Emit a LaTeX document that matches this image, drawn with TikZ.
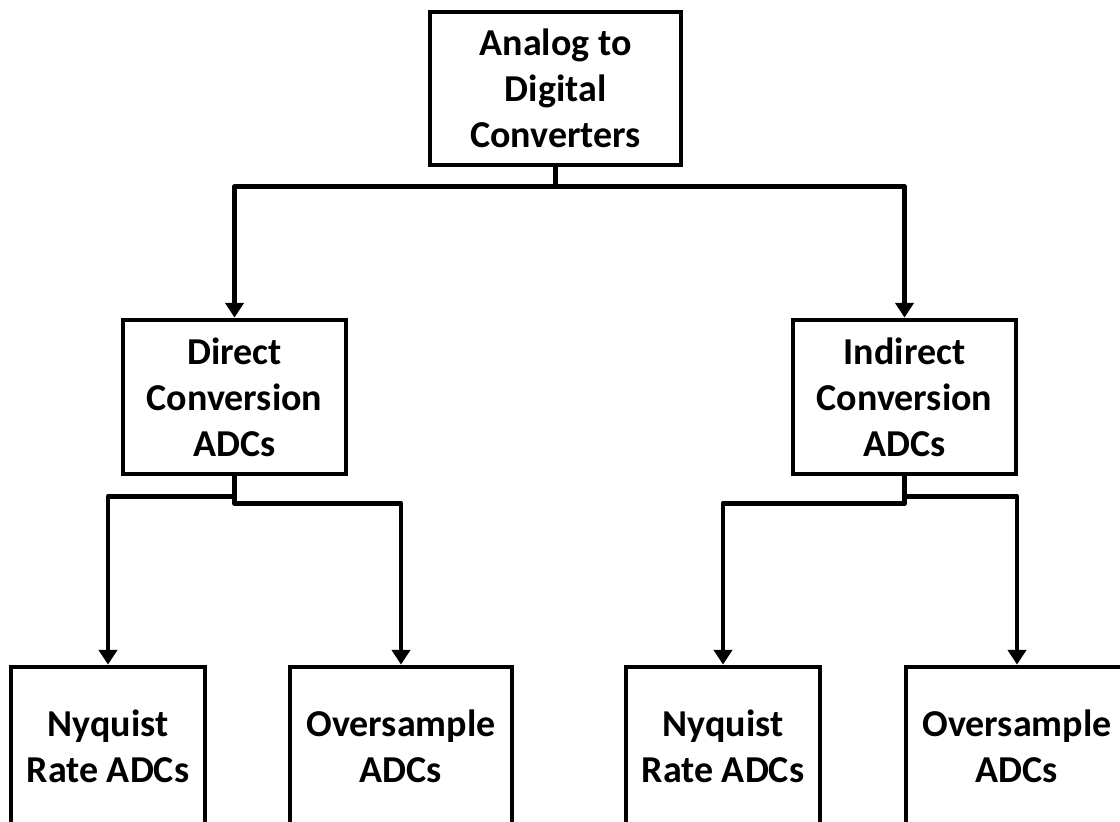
\documentclass[tikz,border=0pt]{standalone}
\usepackage{fontspec}
\setmainfont{Carlito}
\usetikzlibrary{positioning, arrows.meta}

\begin{document}
\begin{tikzpicture}[x=0.75pt, y=-0.75pt,
    box/.style={draw, line width=3.6pt, align=center, inner sep=0pt,
      font=\fontsize{28.5}{34.5}\selectfont\bfseries},
    midbox/.style={box, minimum width=223*0.75pt, minimum height=154*0.75pt},
    nyqbox/.style={box, minimum width=194*0.75pt, minimum height=158*0.75pt},
    overbox/.style={box, minimum width=222*0.75pt, minimum height=158*0.75pt},
    link/.style={line width=3.6pt, line join=round,
      -{Triangle[width=13.5pt, length=11pt]}}]
  \clip (0,0) rectangle (1120,821);
  \fill[white] (0,0) rectangle (1120,821);

  % tree levels
  \node[box, minimum width=251*0.75pt, minimum height=153*0.75pt] (adc) at (555.5,88.5)
    {Analog to\\Digital\\Converters};
  \node[midbox] (direct) at (234.5,397) {Direct\\Conversion\\ADCs};
  \node[midbox] (indirect) at (904.5,397) {Indirect\\Conversion\\ADCs};

  \node[nyqbox] (nyqA) at (108,746) {Nyquist\\Rate ADCs};
  \node[overbox] (overA) at (401,746) {Oversample\\ADCs};
  \node[nyqbox] (nyqB) at (723,746) {Nyquist\\Rate ADCs};
  \node[overbox] (overB) at (1017,746) {Oversample\\ADCs};

  % connectors
  \draw[link] (adc.south) -- ++(0,19) -| (direct.north);
  \draw[link] (adc.south) -- ++(0,19) -| (indirect.north);
  \draw[link] (direct.south) -- ++(0,20) -| (nyqA.north);
  \draw[link] (direct.south) -- ++(0,27) -| (overA.north);
  \draw[link] (indirect.south) -- ++(0,27) -| (nyqB.north);
  \draw[link] (indirect.south) -- ++(0,20) -| (overB.north);
\end{tikzpicture}
\end{document}
